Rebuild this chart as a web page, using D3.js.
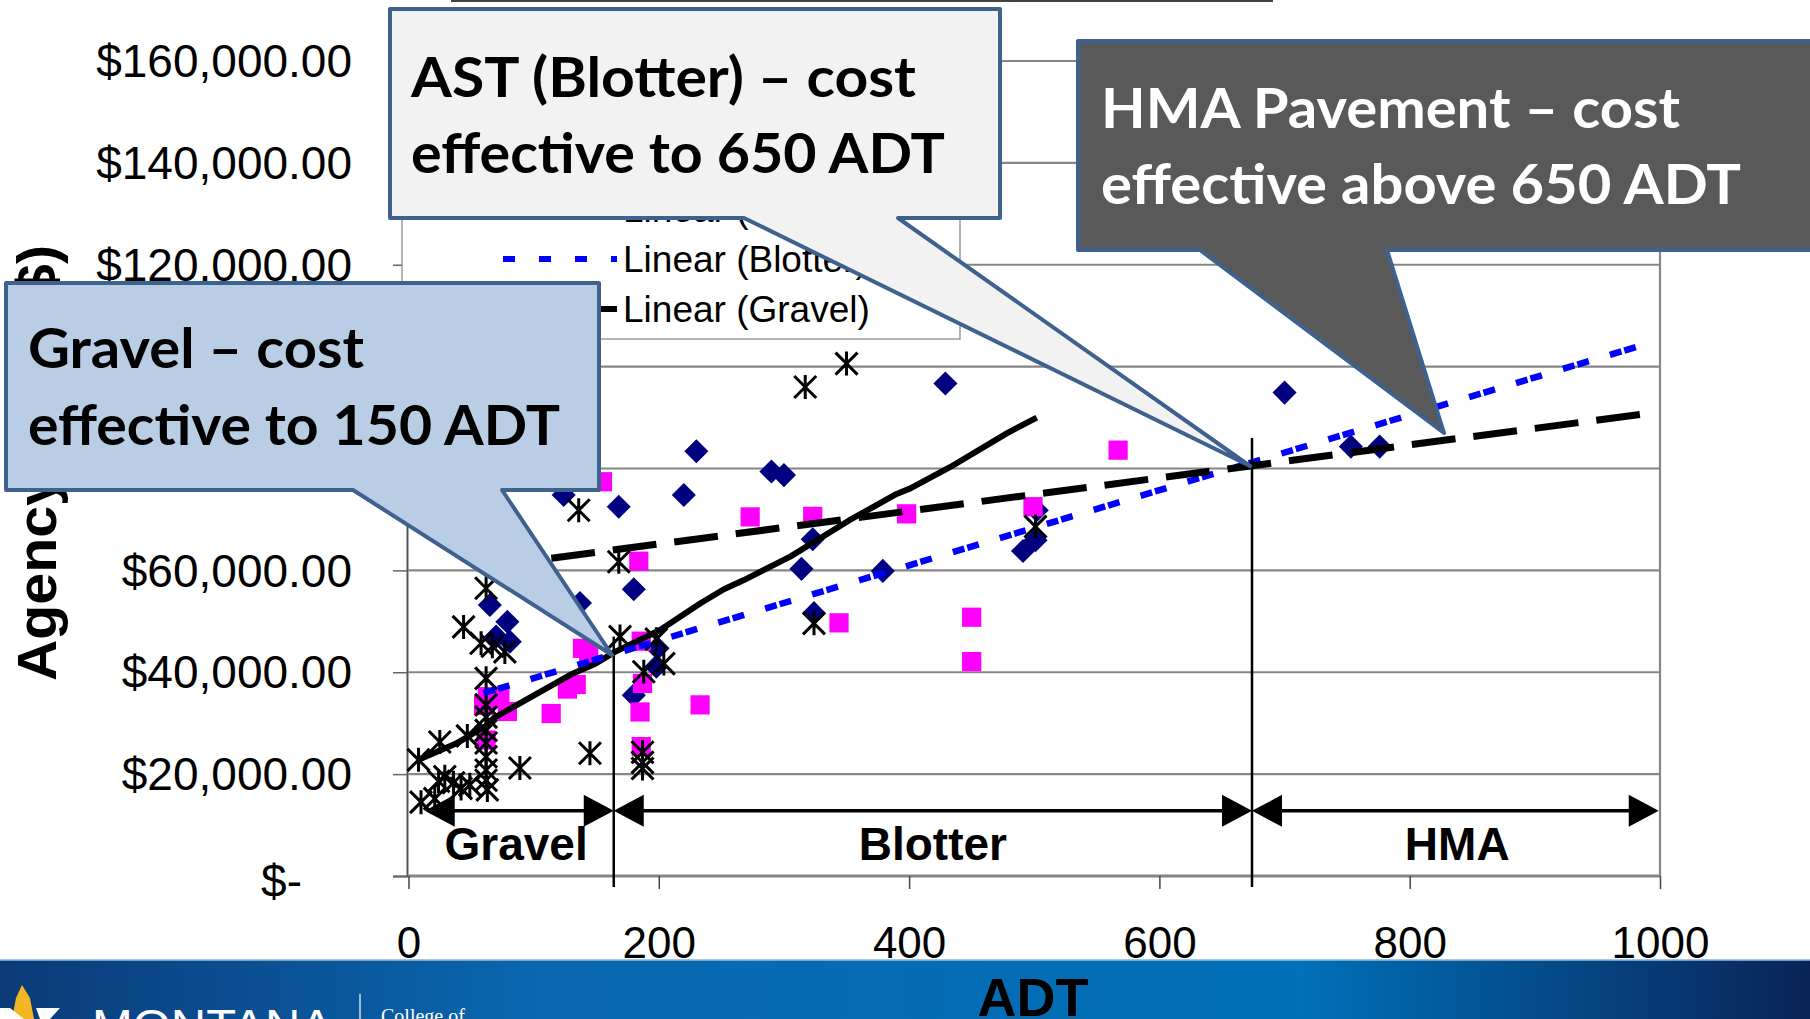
<!DOCTYPE html>
<html><head><meta charset="utf-8">
<script src="https://cdn.jsdelivr.net/npm/d3@7"></script>
<style>html,body{margin:0;padding:0;background:#fff;overflow:hidden}</style>
</head><body><svg id="c" width="1810" height="1019"></svg>
<script>
// ---------------- data ----------------
const xTicks = [0, 200, 400, 600, 800, 1000];
const yTicks = [0, 20000, 40000, 60000, 80000, 100000, 120000, 140000, 160000];

// [ADT, agency cost $]
const hmaPoints = [
  [700, 94900], [753, 84300], [776, 84300], [429, 96700], [230, 83400], [290, 79400],
  [300, 78700], [220, 74800], [168, 72500], [124, 74800], [323, 66100], [314, 60300],
  [379, 59900], [491, 63800], [501, 65900], [502, 71800], [324, 51600], [180, 56300],
  [65, 53200], [79, 49900], [137, 53600], [70, 47000], [81, 46000], [199, 44700],
  [198, 41100], [180, 35500]
];
const blotterPoints = [
  [567, 83600], [155, 77400], [184, 61800], [273, 70500], [323, 70600], [398, 71100],
  [499, 72500], [344, 49700], [450, 50800], [450, 42100], [187, 37800], [127, 36700],
  [134, 37600], [139, 44700], [144, 43700], [186, 46100], [63, 35200], [73, 34800],
  [79, 32300], [114, 31900], [185, 32200], [233, 33600], [60, 33500], [62, 26700],
  [186, 25400]
];
const gravelPoints = [
  [317, 96000], [350, 100600], [501, 68600], [324, 49600], [136, 71800], [168, 61700],
  [62, 56500], [44, 48900], [58, 45700], [67, 45100], [77, 44000], [169, 47000],
  [198, 46500], [204, 41700], [188, 40100], [62, 38800], [62, 33600], [62, 31200],
  [62, 28600], [62, 26100], [62, 23400], [62, 20800], [62, 18800], [63, 16900],
  [8, 22800], [25, 26300], [47, 27500], [29, 19500], [36, 18300], [24, 18600],
  [49, 17900], [42, 17200], [10, 14500], [21, 15200], [89, 21200], [145, 24100],
  [187, 24300], [187, 22300], [187, 21100]
];

const hmaTrend = [[65, 60800], [990, 90800]];
const blotterTrend = [[60, 35900], [995, 104900]];
const gravelTrend = [
  [8, 22800], [38, 26000], [62, 29500], [68, 31000], [130, 39600], [148, 41500],
  [165, 44000], [201, 48300], [233, 53500], [252, 56300], [268, 58100], [305, 62700],
  [352, 69800], [390, 75000], [401, 76100], [433, 80300], [478, 86900], [502, 90000]
];

const breakADT = [164, 674];
const breakTop = [47000, 86000];
const zoneNames = ["Gravel", "Blotter", "HMA"];
const zoneFrom = [13, 164, 674];
const zoneTo = [164, 674, 999];
const zoneLabelADT = [86, 419, 838];
const zoneArrowCost = 12800;
const zoneLabelCost = 3100;

const legendLabels = ["HMA", "Blotter", "Gravel", "Linear (HMA)", "Linear (Blotter)", "Linear (Gravel)"];

const astText = ["AST (Blotter) \u2013 cost", "effective to 650 ADT"];
const hmaText = ["HMA Pavement \u2013 cost", "effective above 650 ADT"];
const gravelText = ["Gravel \u2013 cost", "effective to 150 ADT"];
const yTitle = "Agency Cost ($)";
const xTitle = "ADT";

// ---------------- drawing ----------------
const svg = d3.select("#c");
svg.append("rect").attr("width", 1810).attr("height", 1019).attr("fill", "#fff");

const x = d3.scaleLinear().domain([0, 1000]).range([408.5, 1660]);
const y = d3.scaleLinear().domain([0, 160000]).range([876, 61]);
const AX = "Liberation Sans, Arial, sans-serif";

// top thin line (remnant of slide element)
svg.append("line").attr("x1", 451).attr("x2", 1273).attr("y1", 1).attr("y2", 1)
  .attr("stroke", "#444").attr("stroke-width", 2);

// gridlines
svg.append("g").selectAll("line").data(yTicks).join("line")
  .attr("x1", x(0)).attr("x2", x(1000))
  .attr("y1", d => y(d)).attr("y2", d => y(d))
  .attr("stroke", "#868686").attr("stroke-width", d => d === 0 ? 3 : 2.2);
// right border
svg.append("line").attr("x1", x(1000)).attr("x2", x(1000)).attr("y1", y(160000)).attr("y2", y(0))
  .attr("stroke", "#868686").attr("stroke-width", 2.2);

// y axis
const ya = svg.append("g").attr("transform", `translate(${x(0) - 1.5},0)`)
  .call(d3.axisLeft(y).tickValues(yTicks).tickSize(14).tickPadding(41)
    .tickFormat(d => d === 0 ? "$-" : d3.format("$,.2f")(d)));
ya.select(".domain").attr("stroke", "#555").attr("stroke-width", 2);
ya.selectAll(".tick line").attr("stroke", "#666").attr("stroke-width", 1.5);
ya.selectAll(".tick text").attr("font-family", AX).attr("font-size", 46).attr("fill", "#000")
  .attr("dx", d => d === 0 ? -50 : 0).attr("dy", d => d === 0 ? "0.45em" : "0.34em");

// x axis
const xa = svg.append("g").attr("transform", `translate(0,${y(0)})`)
  .call(d3.axisBottom(x).tickValues(xTicks).tickSize(13).tickPadding(38).tickFormat(d3.format("d")));
xa.select(".domain").remove();
xa.selectAll(".tick line").attr("stroke", "#444").attr("stroke-width", 1.5);
xa.selectAll(".tick text").attr("font-family", AX).attr("font-size", 44).attr("fill", "#000");

// legend
const lg = svg.append("g");
lg.append("rect").attr("x", 402).attr("y", 40).attr("width", 558).attr("height", 299)
  .attr("fill", "#fff").attr("stroke", "#808080").attr("stroke-width", 1.2);
legendLabels.forEach((t, i) => {
  const by = 72 + i * 50;
  lg.append("text").attr("x", 623).attr("y", by).attr("font-family", AX).attr("font-size", 37)
    .attr("fill", "#000").text(t);
  if (i === 4) lg.append("line").attr("x1", 503).attr("x2", 617).attr("y1", by - 13).attr("y2", by - 13)
    .attr("stroke", "#0000ff").attr("stroke-width", 6).attr("stroke-dasharray", "12,24");
  if (i === 3 || i === 5) lg.append("line").attr("x1", 503).attr("x2", 617).attr("y1", by - 13).attr("y2", by - 13)
    .attr("stroke", "#000").attr("stroke-width", 6).attr("stroke-dasharray", i === 3 ? "40,16" : null);
});

// markers
const diamond = d3.symbol().type(d3.symbolSquare).size(290)();
const square = d3.symbol().type(d3.symbolSquare).size(370)();
const star = "M0,-12V12M-11,-11L11,11M-11,11L11,-11";

svg.append("g").selectAll("path").data(hmaPoints).join("path")
  .attr("d", diamond).attr("fill", "#000080")
  .attr("transform", d => `translate(${x(d[0])},${y(d[1])}) rotate(45)`);
svg.append("g").selectAll("path").data(blotterPoints).join("path")
  .attr("d", square).attr("fill", "#ff00ff")
  .attr("transform", d => `translate(${x(d[0])},${y(d[1])})`);
svg.append("g").selectAll("path").data(gravelPoints).join("path")
  .attr("d", star).attr("fill", "none").attr("stroke", "#000").attr("stroke-width", 3)
  .attr("transform", d => `translate(${x(d[0])},${y(d[1])})`);

// trendlines
const line = d3.line().x(d => x(d[0])).y(d => y(d[1]));
svg.append("path").attr("d", line(gravelTrend)).attr("fill", "none").attr("stroke", "#000")
  .attr("stroke-width", 6).attr("stroke-linejoin", "round");
svg.append("path").attr("d", line(blotterTrend)).attr("fill", "none").attr("stroke", "#0000ff")
  .attr("stroke-width", 6.5).attr("stroke-dasharray", "12,3,12,22");
svg.append("path").attr("d", line(hmaTrend)).attr("fill", "none").attr("stroke", "#000")
  .attr("stroke-width", 7).attr("stroke-dasharray", "44,18");

// break lines
breakADT.forEach((b, i) => {
  svg.append("line").attr("x1", x(b)).attr("x2", x(b)).attr("y1", y(breakTop[i])).attr("y2", y(0) + 11)
    .attr("stroke", "#000").attr("stroke-width", 2.5);
});

// zone arrows
const ay = y(zoneArrowCost);
zoneNames.forEach((n, i) => {
  const a = x(zoneFrom[i]), b = x(zoneTo[i]);
  svg.append("line").attr("x1", a + 20).attr("x2", b - 20).attr("y1", ay).attr("y2", ay)
    .attr("stroke", "#000").attr("stroke-width", 3.5);
  svg.append("path").attr("d", `M${a},${ay}L${a + 30},${ay - 16}L${a + 30},${ay + 16}Z`).attr("fill", "#000");
  svg.append("path").attr("d", `M${b},${ay}L${b - 30},${ay - 16}L${b - 30},${ay + 16}Z`).attr("fill", "#000");
  svg.append("text").attr("x", x(zoneLabelADT[i])).attr("y", y(zoneLabelCost))
    .attr("text-anchor", "middle").attr("font-family", AX).attr("font-weight", "bold")
    .attr("font-size", 46).attr("fill", "#000").text(n);
});

// y title
svg.append("text").attr("transform", "translate(56,463) rotate(-90)")
  .attr("text-anchor", "middle").attr("font-family", AX).attr("font-weight", "bold")
  .attr("font-size", 56).attr("textLength", 436).attr("lengthAdjust", "spacingAndGlyphs")
  .attr("fill", "#000").text(yTitle);

// callouts
const CF = "Lato, 'Open Sans', sans-serif";
function callout(pts, fill, lines, tx, bases, lens, color) {
  svg.append("path").attr("d", "M" + pts.map(p => p.join(",")).join("L") + "Z")
    .attr("fill", fill).attr("stroke", "#3f618d").attr("stroke-width", 4).attr("stroke-linejoin", "round");
  lines.forEach((t, i) => {
    svg.append("text").attr("x", tx).attr("y", bases[i]).attr("font-family", CF)
      .attr("font-weight", 700).attr("font-size", 56).attr("fill", color)
      .attr("textLength", lens[i]).attr("lengthAdjust", "spacingAndGlyphs").text(t);
  });
}
callout([[390, 9], [1000, 9], [1000, 218], [898, 218], [1250, 466], [744, 218], [390, 218]],
  "#f2f2f2", astText, 411, [97, 173], [505, 534], "#000");
callout([[1078, 41], [1816, 41], [1816, 250], [1387, 250], [1444, 433], [1200, 250], [1078, 250]],
  "#595959", hmaText, 1101, [128, 204], [579, 640], "#fff");
callout([[6, 283], [599, 283], [599, 490], [502, 490], [612, 655], [353, 490], [6, 490]],
  "#b9cde5", gravelText, 28, [368, 445], [336, 532], "#000");

// bottom banner
const defs = svg.append("defs");
const gr = defs.append("linearGradient").attr("id", "ban").attr("x1", 0).attr("x2", 1).attr("y1", 0).attr("y2", 0);
[[0, "#0b3a78"], [0.3, "#0a68b0"], [0.72, "#0070b8"], [1, "#0a2357"]].forEach(s =>
  gr.append("stop").attr("offset", s[0]).attr("stop-color", s[1]));
svg.append("rect").attr("x", 0).attr("y", 960).attr("width", 1810).attr("height", 59).attr("fill", "url(#ban)");
svg.append("rect").attr("x", 0).attr("y", 959).attr("width", 1810).attr("height", 2).attr("fill", "#8fb8dc").attr("opacity", 0.8);
// logo
svg.append("path").attr("d", "M22,985 L30,998 L34,1019 L12,1019 L16,998 Z").attr("fill", "#f2b824");
svg.append("path").attr("d", "M0,1008 L10,1008 L24,1019 L0,1019 Z M36,1008 L60,1008 L50,1019 L40,1019 Z").attr("fill", "#fff");
svg.append("text").attr("x", 92).attr("y", 1042).attr("font-family", AX).attr("font-size", 46)
  .attr("textLength", 241).attr("lengthAdjust", "spacingAndGlyphs").attr("fill", "#fff").text("MONTANA");
svg.append("line").attr("x1", 360).attr("x2", 360).attr("y1", 994).attr("y2", 1019).attr("stroke", "#fff").attr("stroke-width", 1.2);
svg.append("text").attr("x", 381).attr("y", 1023).attr("font-family", "Liberation Serif, serif").attr("font-size", 20)
  .attr("fill", "#fff").text("College of");

// x title
svg.append("text").attr("x", 1033).attr("y", 1016).attr("text-anchor", "middle").attr("font-family", AX)
  .attr("font-weight", "bold").attr("font-size", 54).attr("fill", "#000").text(xTitle);
</script></body></html>
